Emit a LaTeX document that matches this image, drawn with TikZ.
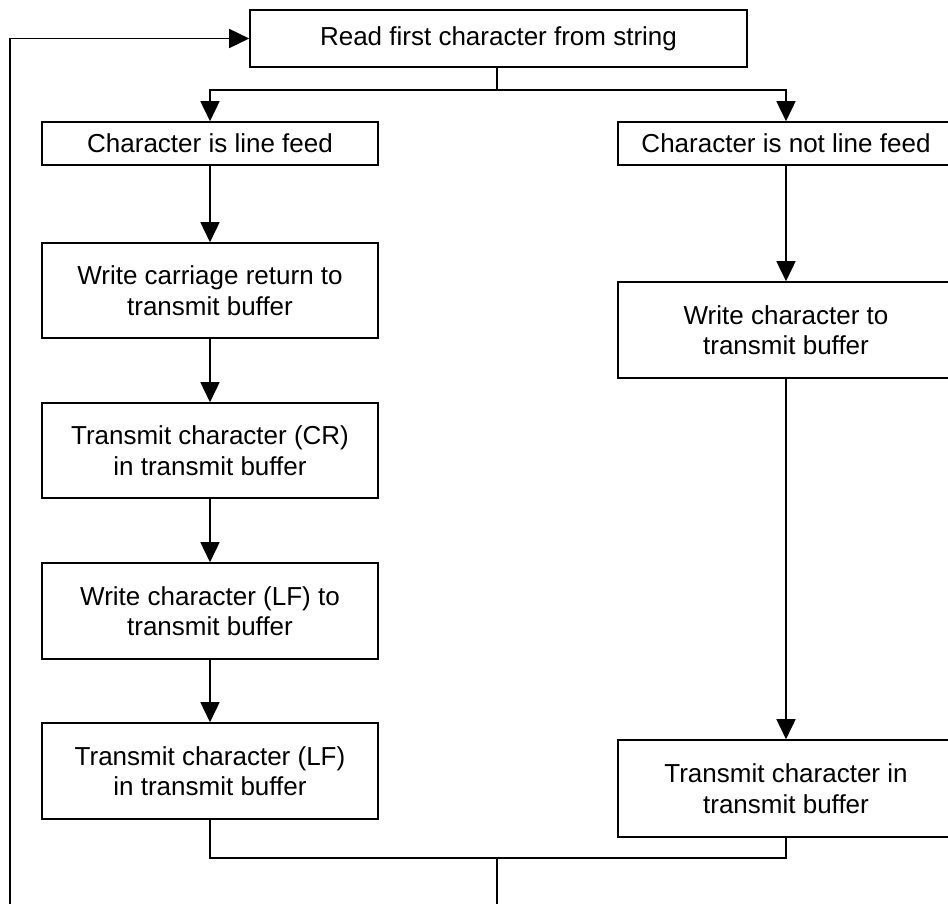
\documentclass[tikz,border=0pt]{standalone}
\usepackage{fontspec}
\setmainfont{Liberation Sans}
\usetikzlibrary{arrows.meta}
\begin{document}
\begin{tikzpicture}[x=1pt,y=-1pt,
  box/.style={draw,line width=1.6pt,rectangle,minimum width=336pt,align=center,inner sep=0pt,
    font=\fontsize{26}{30.5}\selectfont},
  link/.style={line width=1.6pt},
  arr/.style={line width=1.6pt,-{Triangle[length=20pt,width=19pt]}}]
\useasboundingbox (0,0) rectangle (948,903);
\node[box,minimum width=497pt,minimum height=57pt] (top) at (498.5,38.5) {Read first character from string};
\node[box,minimum height=43pt] (lf) at (210,143.5) {Character is line feed};
\node[box,minimum height=95pt] (wcr) at (210,290.5) {Write carriage return to\\transmit buffer};
\node[box,minimum height=95pt] (tcr) at (210,450.5) {Transmit character (CR)\\in transmit buffer};
\node[box,minimum height=96pt] (wlf) at (210,611) {Write character (LF) to\\transmit buffer};
\node[box,minimum height=96pt] (tlf) at (210,771) {Transmit character (LF)\\in transmit buffer};
\node[box,minimum height=43pt] (nlf) at (786,143.5) {Character is not line feed};
\node[box,minimum height=96pt] (wc) at (786,330) {Write character to\\transmit buffer};
\node[box,minimum height=97pt] (tc) at (786,788.5) {Transmit character in\\transmit buffer};
\coordinate (j) at (497,90);
\coordinate (m) at (497,858);
\coordinate (lp) at (10,920);
\draw[link] (top.south -| j) -- (j);
\draw[arr] (j) -| (lf.north);
\draw[arr] (j) -| (nlf.north);
\draw[arr] (lf) -- (wcr);
\draw[arr] (wcr) -- (tcr);
\draw[arr] (tcr) -- (wlf);
\draw[arr] (wlf) -- (tlf);
\draw[arr] (nlf) -- (wc);
\draw[arr] (wc) -- (tc);
\draw[link] (tlf.south) |- (m) -| (tc.south);
\draw[arr] (m) |- (lp) |- (top.west);
\end{tikzpicture}
\end{document}
